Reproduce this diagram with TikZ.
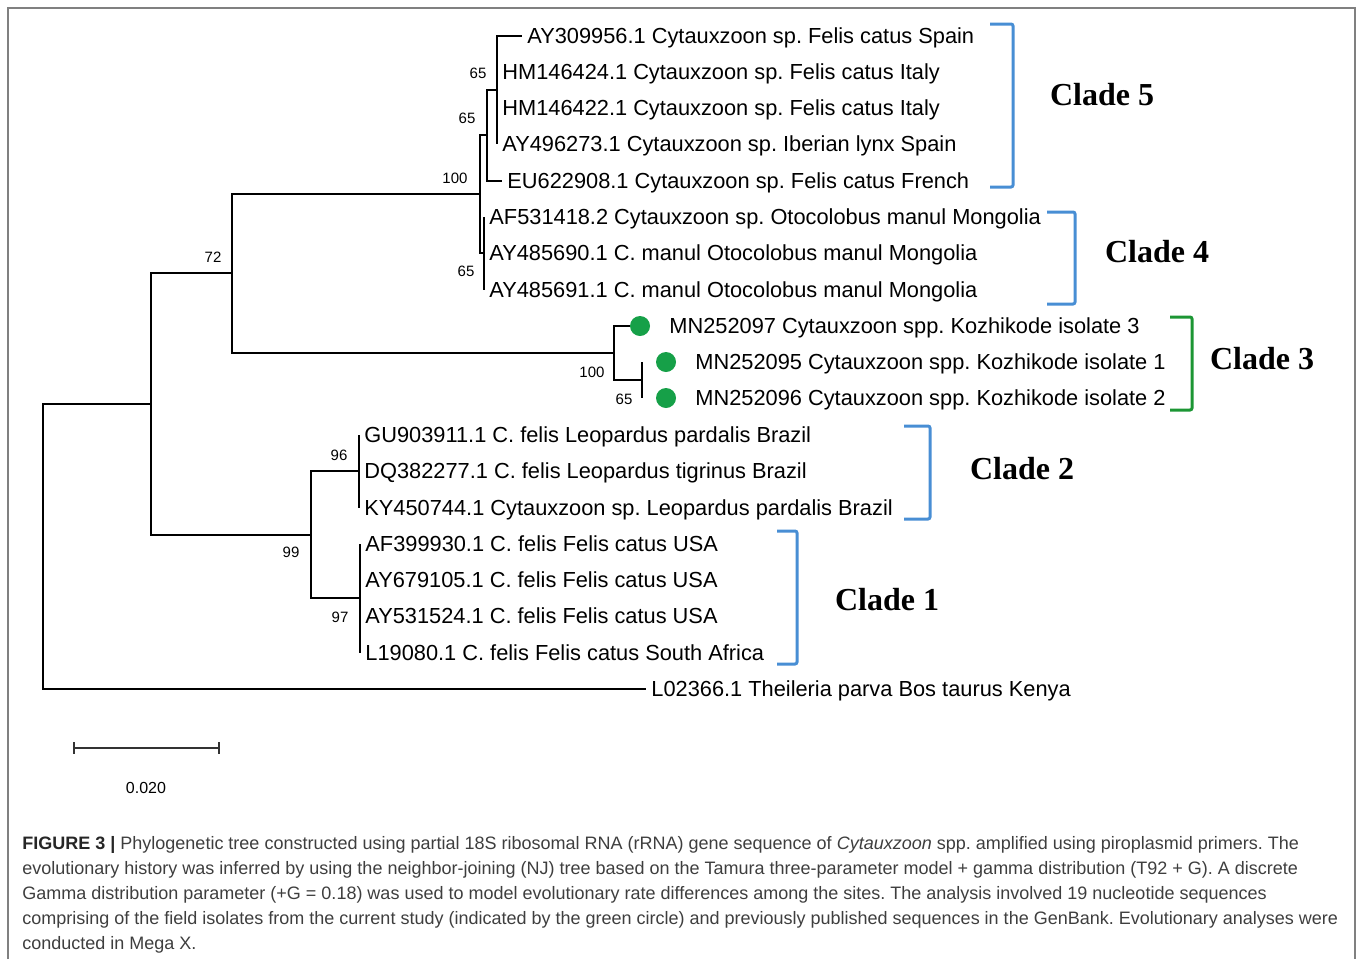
\documentclass[tikz,border=0pt]{standalone}
\usepackage{fontspec}
\setmainfont{Liberation Sans}
\newfontfamily\cladefont{Liberation Serif}
\usetikzlibrary{calc}
\frenchspacing
\definecolor{cladeblue}{RGB}{72,142,212}
\definecolor{cladegreen}{RGB}{28,150,52}
\definecolor{dotgreen}{RGB}{22,160,72}
\definecolor{framegray}{RGB}{128,128,128}
\definecolor{capgray}{RGB}{62,62,62}
\tikzset{
  branch/.style={line width=0.8pt},
  taxon/.style={anchor=west,inner sep=0pt,inner xsep=2.5pt,text height=7.8pt,text depth=0pt,
    font=\fontsize{10.9}{13}\selectfont},
  boot/.style={inner sep=0pt,font=\fontsize{7.5}{9}\selectfont},
  isolate/.style={circle,fill=dotgreen,inner sep=0pt,minimum size=10pt},
  cladelabel/.style={font=\cladefont\bfseries\fontsize{16}{18}\selectfont},
  capline/.style={anchor=base west,inner sep=0pt,text=capgray,font=\fontsize{9}{10}\selectfont}
}
% clade bracket: x left, x right, top, bottom, colour
\newcommand{\cladebracket}[5]{
  \draw[#5,line width=1.5pt,rounded corners=1pt] (#1,#3) -- (#2,#3) -- (#2,#4) -- (#1,#4);
}

\begin{document}
\begin{tikzpicture}[x=0.5pt,y=-0.5pt]
  \useasboundingbox (0,0) rectangle (1358,959);
  \draw[framegray,line width=1pt] (8,959) -- (8,8) -- (1355,8) -- (1355,959);

  % inner nodes of the tree
  \coordinate (root) at (43,546);
  \coordinate (n1) at (151,404);
  \coordinate (n2) at (232,273);
  \coordinate (c45) at (480,194);
  \coordinate (c5b) at (487,135);
  \coordinate (c5a) at (497,90);
  \coordinate (c4) at (484,253);
  \coordinate (c3) at (614,353);
  \coordinate (c3b) at (642,380);
  \coordinate (c3b1) at (642,362);
  \coordinate (c3b2) at (642,398);
  \coordinate (n6) at (311,535);
  \coordinate (c2) at (359,471);
  \coordinate (c1) at (360,598);

  % Clade 5
  \node[taxon] (ay309956) at (522,36) {AY309956.1 Cytauxzoon sp. Felis catus Spain};
  \node[taxon] (hm146424) at (497,72) {HM146424.1 Cytauxzoon sp. Felis catus Italy};
  \node[taxon] (hm146422) at (497,108) {HM146422.1 Cytauxzoon sp. Felis catus Italy};
  \node[taxon] (ay496273) at (497,144) {AY496273.1 Cytauxzoon sp. Iberian lynx Spain};
  \node[taxon] (eu622908) at (502,181) {EU622908.1 Cytauxzoon sp. Felis catus French};
  % Clade 4
  \node[taxon] (af531418) at (484,217) {AF531418.2 Cytauxzoon sp. Otocolobus manul Mongolia};
  \node[taxon] (ay485690) at (484,253) {AY485690.1 C. manul Otocolobus manul Mongolia};
  \node[taxon] (ay485691) at (484,290) {AY485691.1 C. manul Otocolobus manul Mongolia};
  % Clade 3, field isolates
  \node[isolate] (dot3) at (640,326) {};
  \node[isolate] (dot1) at (666,362) {};
  \node[isolate] (dot2) at (666,398) {};
  \node[taxon] (mn252097) at (664,326) {MN252097 Cytauxzoon spp. Kozhikode isolate 3};
  \node[taxon] (mn252095) at (690,362) {MN252095 Cytauxzoon spp. Kozhikode isolate 1};
  \node[taxon] (mn252096) at (690,398) {MN252096 Cytauxzoon spp. Kozhikode isolate 2};
  % Clade 2
  \node[taxon] (gu903911) at (359,435) {GU903911.1 C. felis Leopardus pardalis Brazil};
  \node[taxon] (dq382277) at (359,471) {DQ382277.1 C. felis Leopardus tigrinus Brazil};
  \node[taxon] (ky450744) at (359,508) {KY450744.1 Cytauxzoon sp. Leopardus pardalis Brazil};
  % Clade 1
  \node[taxon] (af399930) at (360,544) {AF399930.1 C. felis Felis catus USA};
  \node[taxon] (ay679105) at (360,580) {AY679105.1 C. felis Felis catus USA};
  \node[taxon] (ay531524) at (360,616) {AY531524.1 C. felis Felis catus USA};
  \node[taxon] (l19080) at (360,653) {L19080.1 C. felis Felis catus South Africa};
  % outgroup
  \node[taxon] (l02366) at (646,689) {L02366.1 Theileria parva Bos taurus Kenya};

  % branches
  \draw[branch] (root) |- (n1);
  \draw[branch] (root) |- (l02366.west);
  \draw[branch] (n1) |- (n2);
  \draw[branch] (n1) |- (n6);
  \draw[branch] (n2) |- (c45);
  \draw[branch] (n2) |- (c3);
  \draw[branch] (c45) |- (c5b);
  \draw[branch] (c45) |- (c4);
  \draw[branch] (c5b) |- (c5a);
  \draw[branch] (c5b) |- (eu622908.west);
  \foreach \t in {ay309956,hm146424,hm146422,ay496273}
    \draw[branch] (c5a) |- (\t.west);
  \foreach \t in {af531418,ay485690,ay485691}
    \draw[branch] (c4) |- (\t.west);
  \draw[branch] (c3) |- (dot3.west);
  \draw[branch] (c3) |- (c3b);
  \draw[branch] (c3b1) -- (c3b2);
  \draw[branch] (n6) |- (c2);
  \draw[branch] (n6) |- (c1);
  \foreach \t in {gu903911,dq382277,ky450744}
    \draw[branch] (c2) |- (\t.west);
  \foreach \t in {af399930,ay679105,ay531524,l19080}
    \draw[branch] (c1) |- (\t.west);

  % bootstrap values
  \node[boot] (bs1) at (478,73) {65};
  \node[boot] (bs2) at (467,118) {65};
  \node[boot] (bs3) at (455,178) {100};
  \node[boot] (bs4) at (466,271) {65};
  \node[boot] (bs5) at (213,257) {72};
  \node[boot] (bs6) at (592,372) {100};
  \node[boot] (bs7) at (624,399) {65};
  \node[boot] (bs8) at (339,455) {96};
  \node[boot] (bs9) at (291,552) {99};
  \node[boot] (bs10) at (340,617) {97};

  % clades
  \cladebracket{990}{1013}{24}{187}{cladeblue}
  \cladebracket{1047}{1075}{212}{304}{cladeblue}
  \cladebracket{1170}{1192}{317}{410}{cladegreen}
  \cladebracket{904}{930}{426}{519}{cladeblue}
  \cladebracket{777}{797}{531}{664}{cladeblue}
  \node[cladelabel] (clade5) at (1102,95) {Clade 5};
  \node[cladelabel] (clade4) at (1157,252) {Clade 4};
  \node[cladelabel] (clade3) at (1262,359) {Clade 3};
  \node[cladelabel] (clade2) at (1022,469) {Clade 2};
  \node[cladelabel] (clade1) at (887,600) {Clade 1};

  % scale bar
  \coordinate (sb1) at (74,748);
  \coordinate (sb2) at (219,748);
  \draw[line width=0.7pt,black!80] (sb1) -- (sb2);
  \draw[line width=0.7pt,black!80] ($(sb1)+(0,-6)$) -- ($(sb1)+(0,6)$);
  \draw[line width=0.7pt,black!80] ($(sb2)+(0,-6)$) -- ($(sb2)+(0,6)$);
  \node[boot,font=\fontsize{8}{10}\selectfont] (scale) at (146,788) {0.020};

  % caption
  \node[capline] (cap1) at (22,849) {\textbf{\color{black!85}FIGURE 3 |} Phylogenetic tree constructed using partial 18S ribosomal RNA (rRNA) gene sequence of \textit{Cytauxzoon} spp. amplified using piroplasmid primers. The};
  \node[capline] (cap2) at (22,874) {evolutionary history was inferred by using the neighbor-joining (NJ) tree based on the Tamura three-parameter model + gamma distribution (T92 + G). A discrete};
  \node[capline] (cap3) at (22,899) {Gamma distribution parameter (+G = 0.18) was used to model evolutionary rate differences among the sites. The analysis involved 19 nucleotide sequences};
  \node[capline] (cap4) at (22,924) {comprising of the field isolates from the current study (indicated by the green circle) and previously published sequences in the GenBank. Evolutionary analyses were};
  \node[capline] (cap5) at (22,949) {conducted in Mega X.};
\end{tikzpicture}
\end{document}
